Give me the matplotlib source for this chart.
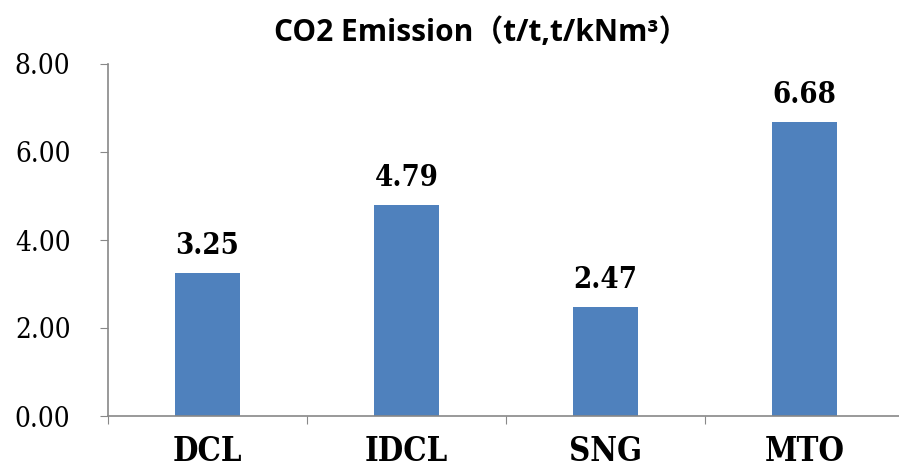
import matplotlib
matplotlib.use("Agg")
import matplotlib.pyplot as plt

categories = ["DCL", "IDCL", "SNG", "MTO"]
emissions = [3.25, 4.79, 2.47, 6.68]
y_ticks = [0, 2, 4, 6, 8]

fig = plt.figure(figsize=(8.99, 4.69), dpi=100)
# axes runs slightly past the right edge, as in the original export
ax = fig.add_axes([108 / 899, (469 - 416) / 469, 796 / 899, 352 / 469])

x = list(range(len(categories)))
ax.bar(x, emissions, width=0.33, color="#4F81BD", zorder=2)

ax.set_xlim(-0.5, len(categories) - 0.5)
ax.set_ylim(0, 8)

serif = dict(family="DejaVu Serif", stretch="condensed")

for xi, v in zip(x, emissions):
    ax.annotate(f"{v:.2f}", (xi, v), xytext=(0, 14), textcoords="offset points",
                ha="center", va="baseline", fontsize=21, fontweight="bold", **serif)

ax.set_yticks(y_ticks)
ax.set_yticklabels([f"{t:.2f}" for t in y_ticks], fontsize=20, **serif)

# category ticks sit on the boundaries, labels sit under the bars
ax.set_xticks([i - 0.5 for i in range(len(categories) + 1)])
ax.set_xticklabels([])
ax.set_xticks(x, minor=True)
ax.set_xticklabels(categories, minor=True, fontsize=23.5, fontweight="bold", **serif)
ax.tick_params(axis="x", which="minor", length=0, pad=14)
ax.tick_params(axis="x", which="major", length=6, color="#888888", direction="out")
ax.tick_params(axis="y", length=6, color="#888888", direction="out", pad=21)

for side in ["top", "right"]:
    ax.spines[side].set_visible(False)
for side in ["left", "bottom"]:
    ax.spines[side].set_color("#888888")
    ax.spines[side].set_linewidth(1.2)

fig.text(481 / 899, 1 - 41 / 469, "CO2 Emission（t/t,t/kNm³）",
         ha="center", va="baseline", fontsize=21.5, fontweight="bold",
         family=["Open Sans", "Noto Sans CJK SC"])

fig.savefig("out.png", dpi=100)
